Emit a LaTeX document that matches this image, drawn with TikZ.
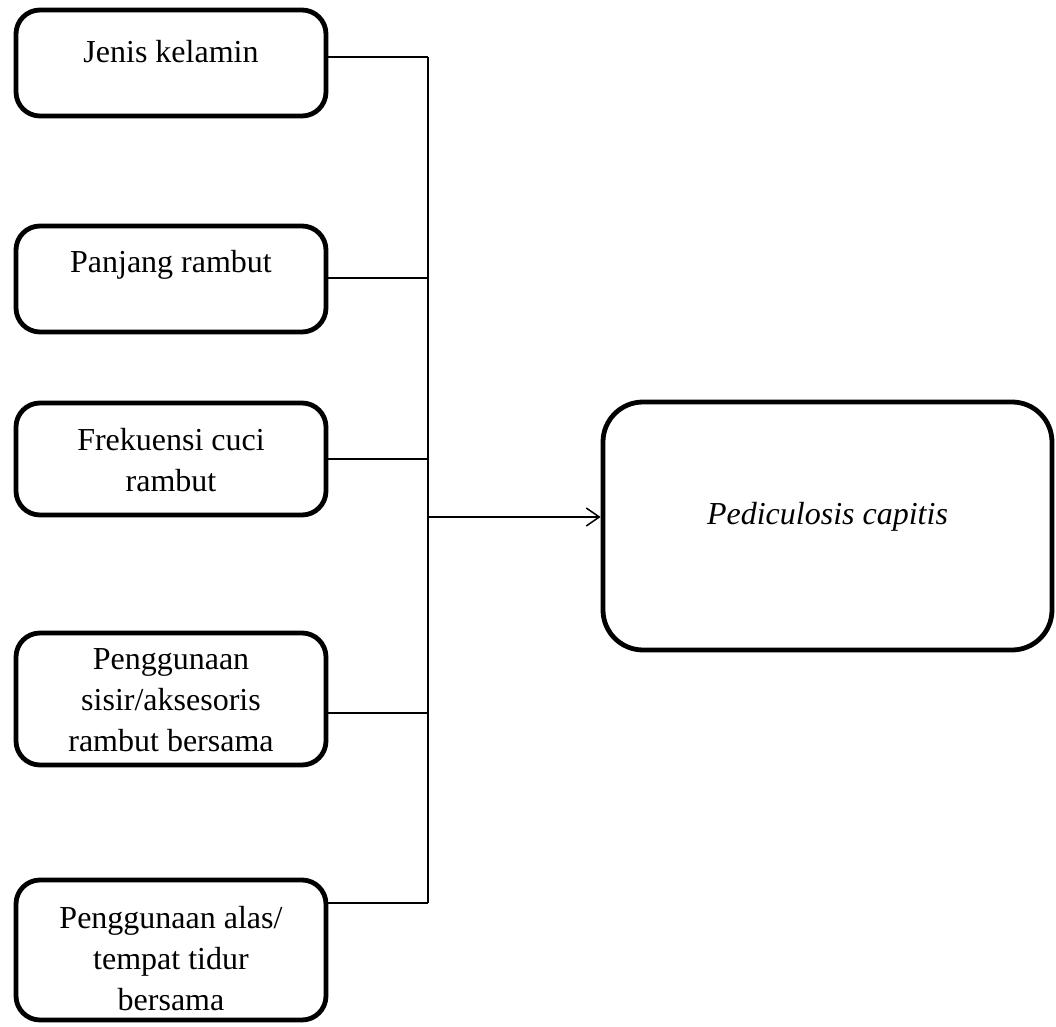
\documentclass[tikz,border=0pt]{standalone}
\usepackage{fontspec}
\setmainfont{Liberation Serif}
\usetikzlibrary{arrows.meta}

\tikzset{
    factor/.style={draw, line width=2.4pt, rounded corners=12pt, minimum width=155pt, inner sep=0pt},
    outcome/.style={draw, line width=2.4pt, rounded corners=20pt, minimum width=224.5pt, minimum height=124pt, inner sep=0pt},
    txt/.style={align=center, inner sep=0pt, font=\fontsize{16}{20.5}\selectfont},
    link/.style={line width=0.75pt}
}

\begin{document}
\begin{tikzpicture}[x=0.5pt,y=-0.5pt,>={Straight Barb[length=6.5pt,width=9pt]}]
    \useasboundingbox (0,0) rectangle (1056,1027);

    \node[factor, minimum height=53pt](b1) at (171,63) {};
    \node[factor, minimum height=53pt](b2) at (171,279) {};
    \node[factor, minimum height=56pt](b3) at (171,459) {};
    \node[factor, minimum height=66pt](b4) at (171,699) {};
    \node[factor, minimum height=70pt](b5) at (171,950) {};
    \node[outcome](pc) at (827.5,526) {};

    \node[txt](t1) at (171,52) {Jenis kelamin};
    \node[txt](t2) at (171,265) {Panjang rambut};
    \node[txt](t3) at (171,460) {Frekuensi cuci\\rambut};
    \node[txt](t4) at (171,700) {Penggunaan\\sisir/aksesoris\\rambut bersama};
    \node[txt](t5) at (171,959) {Penggunaan alas/\\tempat tidur\\bersama};
    \node[txt](tp) at (827.5,517) {\itshape Pediculosis capitis};

    \coordinate(j1) at (428,57);
    \coordinate(j2) at (428,278);
    \coordinate(j3) at (428,459);
    \coordinate(j4) at (428,713);
    \coordinate(j5) at (428,903);
    \coordinate(jo) at (428,517);

    \foreach \k/\l in {b1/j1, b2/j2, b3/j3, b4/j4, b5/j5}{
        \draw[link] (\l -| \k.east) -- (\l);
    }
    \draw[link] (j1) -- (j5);
    \draw[link,->] (jo) -- (jo -| pc.west);
\end{tikzpicture}
\end{document}
